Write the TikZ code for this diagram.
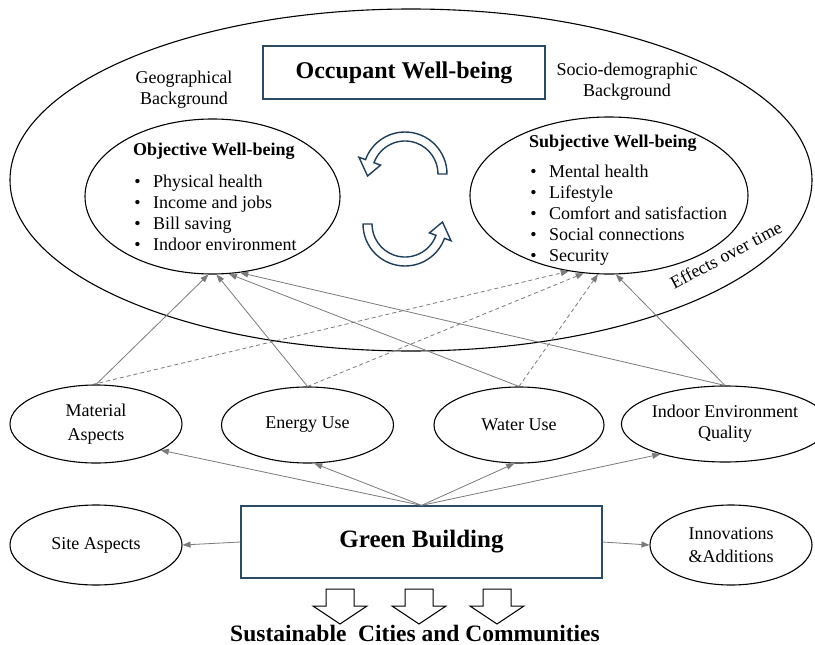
\documentclass[tikz,border=0pt]{standalone}
\usepackage{fontspec}
\setmainfont{Liberation Serif}
\usetikzlibrary{shapes.geometric,arrows.meta,calc}
\definecolor{navy}{HTML}{1F3E5A}
\definecolor{boxblue}{HTML}{2C4A66}
\definecolor{arrgray}{HTML}{7A7A7A}
\begin{document}
\begin{tikzpicture}[x=1pt,y=-1pt,
  ell/.style={draw,ellipse,line width=1.1pt,inner sep=0pt},
  lbl/.style={inner sep=0pt,font=\fontsize{18}{21}\selectfont,align=center},
  itm/.style={inner sep=0pt,font=\fontsize{18}{21}\selectfont,anchor=base west},
  ttl/.style={inner sep=0pt,font=\fontsize{18}{21}\selectfont\bfseries,anchor=base west},
  gar/.style={draw=arrgray,line width=0.8pt,-{Triangle[length=8pt,width=6pt]}},
  gdash/.style={gar,dash pattern=on 4pt off 3pt},
  navybox/.style={draw=boxblue,line width=1.2pt,inner sep=0pt},
  cyc/.style={draw=navy,line width=1.4pt,fill=white,line join=miter},
  blk/.style={draw=black,line width=1pt,fill=white,line join=miter}
]
\fill[white] (0,0) rectangle (815,645);
\useasboundingbox (0,0) rectangle (815,645);

% big ellipse
\node[ell, minimum width=802, minimum height=342] (big) at (411,180) {};
\node[navybox, minimum width=282, minimum height=53, font=\fontsize{24}{28}\selectfont\bfseries] (occ) at (404,72.5) {Occupant Well-being};
\node[lbl] (geo) at (184,90) {Geographical\\Background};
\node[lbl] (soc) at (627,82) {Socio-demographic\\Background};
\node[lbl, rotate=28] (eff) at (726,255) {Effects over time};

% objective / subjective
\node[ell, minimum width=255, minimum height=155] (obj) at (212.5,196.5) {};
\node[ell, minimum width=278, minimum height=157] (sub) at (609,195.5) {};
\node[ttl] (objt) at (133,155) {Objective Well-being};
\foreach \t [count=\i] in {Physical health,Income and jobs,Bill saving,Indoor environment}
  \node[itm] (obji\i) at (153,{187+21*(\i-1)}) {\llap{\textbullet\hspace{12.5pt}}\t};
\node[ttl] (subt) at (529,147) {Subjective Well-being};
\foreach \t [count=\i] in {Mental health,Lifestyle,Comfort and satisfaction,Social connections,Security}
  \node[itm] (subi\i) at (549,{177+21.1*(\i-1)}) {\llap{\textbullet\hspace{12.5pt}}\t};

% cycle arrows
\coordinate (c1) at (405,174);
\coordinate (c2) at (405,224);
\draw[cyc] ($(c1)+(0:42)$) arc[start angle=0,end angle=-160,radius=42]
  -- ($(c1)+(-160:49)$) -- ($(c1)+(-183:37.5)$) -- ($(c1)+(-160:26)$)
  -- ($(c1)+(-160:33)$) arc[start angle=-160,end angle=0,radius=33] -- cycle;
\draw[cyc] ($(c2)+(180:42)$) arc[start angle=180,end angle=20,radius=42]
  -- ($(c2)+(20:49)$) -- ($(c2)+(-3:37.5)$) -- ($(c2)+(20:26)$)
  -- ($(c2)+(20:33)$) arc[start angle=20,end angle=180,radius=33] -- cycle;

% middle row
\node[ell, minimum width=172, minimum height=78, lbl, font=\fontsize{18}{24}\selectfont] (mat) at (96,424) {Material\\Aspects};
\node[ell, minimum width=172, minimum height=76, lbl] (en) at (307.5,425) {Energy Use};
\node[ell, minimum width=170, minimum height=76, lbl] (wat) at (519,425) {Water Use};
\node[ell, minimum width=174, minimum height=76, lbl] (ieq) at (725,424) {Indoor Environment\\Quality};

% bottom row
\node[ell, minimum width=172, minimum height=80, lbl] (site) at (96,545) {Site Aspects};
\node[navybox, minimum width=361, minimum height=72, font=\fontsize{25}{30}\selectfont\bfseries] (gb) at (421.5,542) {Green Building};
\node[ell, minimum width=162, minimum height=80, lbl, font=\fontsize{18}{23}\selectfont] (inn) at (731,545) {Innovations\\\&Additions};

% arrows from green building
\draw[gar] (gb.north) -- (mat.-22);
\draw[gar] (gb.north) -- (en.-80);
\draw[gar] (gb.north) -- (wat.-97);
\draw[gar] (gb.north) -- (ieq.205);
\draw[gar] (gb.west) -- (site.east);
\draw[gar] (gb.east) -- (inn.west);

% upward arrows
\draw[gar] (mat.north) -- (obj.267);
\draw[gdash] (mat.95) -- (sub.242);
\draw[gar] (en.north) -- (obj.273);
\draw[gdash] (en.north) -- (sub.252);
\draw[gar] (wat.north) -- (obj.282);
\draw[gdash] (wat.north) -- (sub.262);
\draw[gar] (ieq.north) -- (obj.290);
\draw[gar] (ieq.north) -- (sub.275);

% block arrows
\foreach \cx in {340,419,497}
  \draw[blk] (\cx-14,589) -- (\cx+14,589) -- (\cx+14,606) -- (\cx+27,606) -- (\cx,624)
     -- (\cx-27,606) -- (\cx-14,606) -- cycle;

\node[inner sep=0pt, anchor=base, font=\fontsize{23.5}{26}\selectfont\bfseries] (sus) at (415,641) {Sustainable\ \ Cities and Communities};
\end{tikzpicture}
\end{document}
